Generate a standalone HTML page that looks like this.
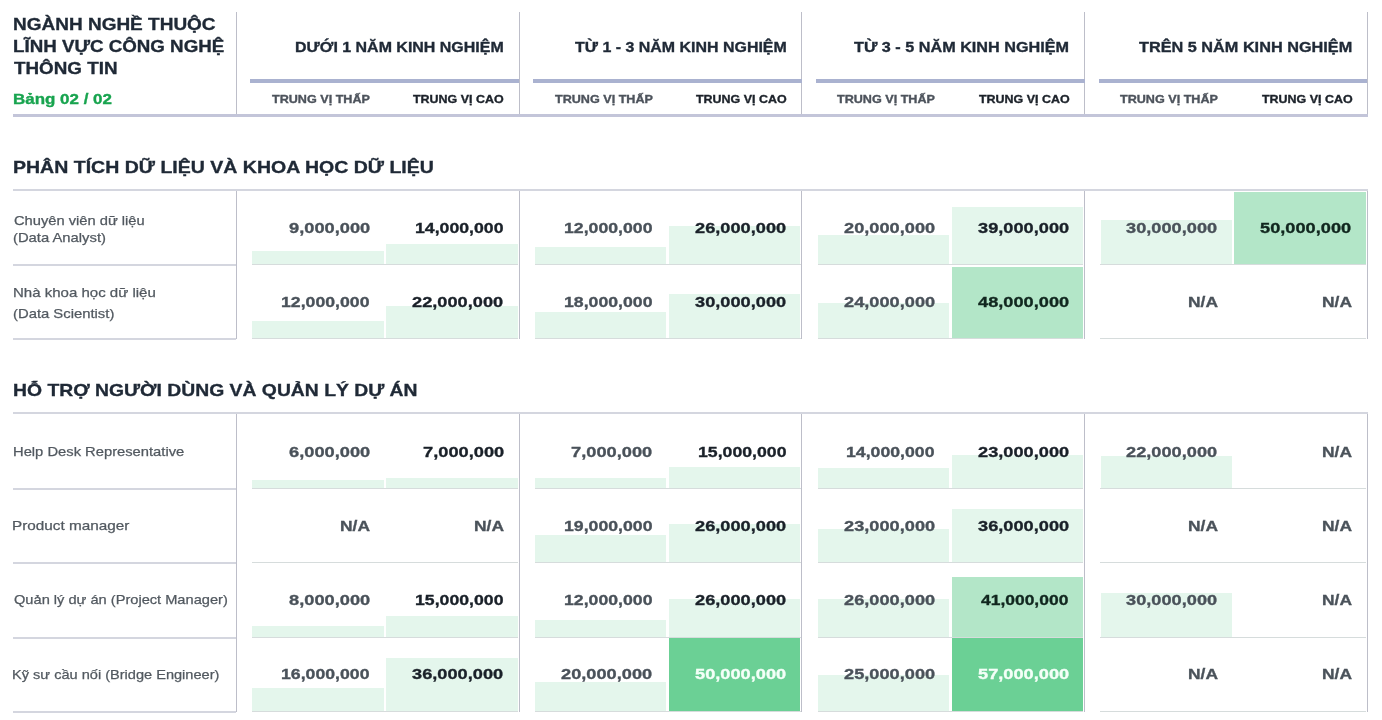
<!DOCTYPE html><html><head><meta charset="utf-8"><style>*{margin:0;padding:0;box-sizing:border-box}html,body{width:1382px;height:720px;overflow:hidden;background:#fff;font-family:"Liberation Sans", sans-serif}.t{position:absolute;white-space:nowrap;line-height:1;transform-origin:0 50%;will-change:transform}.l{position:absolute}</style></head><body>
<div class="l" style="left:252.45px;top:251.44px;width:131.30px;height:12.56px;background:#e4f6ec"></div>
<div class="l" style="left:386.15px;top:244.00px;width:131.85px;height:20.00px;background:#e4f6ec"></div>
<div class="l" style="left:535.20px;top:246.97px;width:131.30px;height:17.03px;background:#e4f6ec"></div>
<div class="l" style="left:668.90px;top:226.14px;width:131.10px;height:37.86px;background:#e4f6ec"></div>
<div class="l" style="left:817.95px;top:235.07px;width:131.30px;height:28.93px;background:#e4f6ec"></div>
<div class="l" style="left:951.65px;top:206.80px;width:131.35px;height:57.20px;background:#e4f6ec"></div>
<div class="l" style="left:1100.70px;top:220.19px;width:131.30px;height:43.81px;background:#e4f6ec"></div>
<div class="l" style="left:1234.40px;top:192.00px;width:131.60px;height:72.00px;background:#b3e6c8"></div>
<div class="l" style="left:252.45px;top:320.97px;width:131.30px;height:17.03px;background:#e4f6ec"></div>
<div class="l" style="left:386.15px;top:306.09px;width:131.85px;height:31.91px;background:#e4f6ec"></div>
<div class="l" style="left:535.20px;top:312.05px;width:131.30px;height:25.95px;background:#e4f6ec"></div>
<div class="l" style="left:668.90px;top:294.19px;width:131.10px;height:43.81px;background:#e4f6ec"></div>
<div class="l" style="left:817.95px;top:303.12px;width:131.30px;height:34.88px;background:#e4f6ec"></div>
<div class="l" style="left:951.65px;top:267.41px;width:131.35px;height:70.59px;background:#b3e6c8"></div>
<div class="l" style="left:252.45px;top:479.90px;width:131.30px;height:8.10px;background:#e4f6ec"></div>
<div class="l" style="left:386.15px;top:478.41px;width:131.85px;height:9.59px;background:#e4f6ec"></div>
<div class="l" style="left:535.20px;top:478.41px;width:131.30px;height:9.59px;background:#e4f6ec"></div>
<div class="l" style="left:668.90px;top:466.51px;width:131.10px;height:21.49px;background:#e4f6ec"></div>
<div class="l" style="left:817.95px;top:468.00px;width:131.30px;height:20.00px;background:#e4f6ec"></div>
<div class="l" style="left:951.65px;top:454.61px;width:131.35px;height:33.39px;background:#e4f6ec"></div>
<div class="l" style="left:1100.70px;top:456.09px;width:131.30px;height:31.91px;background:#e4f6ec"></div>
<div class="l" style="left:535.20px;top:534.56px;width:131.30px;height:27.44px;background:#e4f6ec"></div>
<div class="l" style="left:668.90px;top:524.14px;width:131.10px;height:37.86px;background:#e4f6ec"></div>
<div class="l" style="left:817.95px;top:528.61px;width:131.30px;height:33.39px;background:#e4f6ec"></div>
<div class="l" style="left:951.65px;top:509.26px;width:131.35px;height:52.74px;background:#e4f6ec"></div>
<div class="l" style="left:252.45px;top:625.93px;width:131.30px;height:11.07px;background:#e4f6ec"></div>
<div class="l" style="left:386.15px;top:615.51px;width:131.85px;height:21.49px;background:#e4f6ec"></div>
<div class="l" style="left:535.20px;top:619.97px;width:131.30px;height:17.03px;background:#e4f6ec"></div>
<div class="l" style="left:668.90px;top:599.14px;width:131.10px;height:37.86px;background:#e4f6ec"></div>
<div class="l" style="left:817.95px;top:599.14px;width:131.30px;height:37.86px;background:#e4f6ec"></div>
<div class="l" style="left:951.65px;top:576.82px;width:131.35px;height:60.18px;background:#b3e6c8"></div>
<div class="l" style="left:1100.70px;top:593.19px;width:131.30px;height:43.81px;background:#e4f6ec"></div>
<div class="l" style="left:252.45px;top:688.02px;width:131.30px;height:22.98px;background:#e4f6ec"></div>
<div class="l" style="left:386.15px;top:658.26px;width:131.85px;height:52.74px;background:#e4f6ec"></div>
<div class="l" style="left:535.20px;top:682.07px;width:131.30px;height:28.93px;background:#e4f6ec"></div>
<div class="l" style="left:668.90px;top:638.00px;width:131.10px;height:73.00px;background:#6bd095"></div>
<div class="l" style="left:817.95px;top:674.63px;width:131.30px;height:36.37px;background:#e4f6ec"></div>
<div class="l" style="left:951.65px;top:638.00px;width:131.35px;height:73.00px;background:#6bd095"></div>
<div class="l" style="left:236.00px;top:12.00px;width:1.00px;height:104.00px;background:#bdbec9"></div>
<div class="l" style="left:519.00px;top:12.00px;width:1.00px;height:104.00px;background:#bdbec9"></div>
<div class="l" style="left:801.00px;top:12.00px;width:1.00px;height:104.00px;background:#bdbec9"></div>
<div class="l" style="left:1084.00px;top:12.00px;width:1.00px;height:104.00px;background:#bdbec9"></div>
<div class="l" style="left:1367.00px;top:12.00px;width:1.00px;height:104.00px;background:#bdbec9"></div>
<div class="l" style="left:250.25px;top:79.00px;width:268.75px;height:3.50px;background:#aab2d0"></div>
<div class="l" style="left:533.00px;top:79.00px;width:268.75px;height:3.50px;background:#aab2d0"></div>
<div class="l" style="left:815.75px;top:79.00px;width:268.75px;height:3.50px;background:#aab2d0"></div>
<div class="l" style="left:1098.50px;top:79.00px;width:268.75px;height:3.50px;background:#aab2d0"></div>
<div class="l" style="left:13.00px;top:114.00px;width:1355.00px;height:3.00px;background:#c3c5d9"></div>
<div class="l" style="left:13.00px;top:189.00px;width:1355.00px;height:2.00px;background:#d4d6df"></div>
<div class="l" style="left:236.00px;top:191.00px;width:1.00px;height:148.40px;background:#bdbec9"></div>
<div class="l" style="left:519.00px;top:191.00px;width:1.00px;height:148.40px;background:#bdbec9"></div>
<div class="l" style="left:801.00px;top:191.00px;width:1.00px;height:148.40px;background:#bdbec9"></div>
<div class="l" style="left:1084.00px;top:191.00px;width:1.00px;height:148.40px;background:#bdbec9"></div>
<div class="l" style="left:1367.00px;top:191.00px;width:1.00px;height:148.40px;background:#bdbec9"></div>
<div class="l" style="left:13.00px;top:264.00px;width:223.00px;height:2.00px;background:#d4d6df"></div>
<div class="l" style="left:252.00px;top:264.00px;width:265.75px;height:1.00px;background:#d6dcdc"></div>
<div class="l" style="left:534.75px;top:264.00px;width:265.75px;height:1.00px;background:#d6dcdc"></div>
<div class="l" style="left:817.50px;top:264.00px;width:265.75px;height:1.00px;background:#d6dcdc"></div>
<div class="l" style="left:1100.25px;top:264.00px;width:265.75px;height:1.00px;background:#d6dcdc"></div>
<div class="l" style="left:13.00px;top:338.00px;width:223.00px;height:2.00px;background:#d4d6df"></div>
<div class="l" style="left:252.00px;top:338.00px;width:265.75px;height:1.00px;background:#d6dcdc"></div>
<div class="l" style="left:534.75px;top:338.00px;width:265.75px;height:1.00px;background:#d6dcdc"></div>
<div class="l" style="left:817.50px;top:338.00px;width:265.75px;height:1.00px;background:#d6dcdc"></div>
<div class="l" style="left:1100.25px;top:338.00px;width:265.75px;height:1.00px;background:#d6dcdc"></div>
<div class="l" style="left:13.00px;top:412.00px;width:1355.00px;height:2.00px;background:#d4d6df"></div>
<div class="l" style="left:236.00px;top:414.00px;width:1.00px;height:297.80px;background:#bdbec9"></div>
<div class="l" style="left:519.00px;top:414.00px;width:1.00px;height:297.80px;background:#bdbec9"></div>
<div class="l" style="left:801.00px;top:414.00px;width:1.00px;height:297.80px;background:#bdbec9"></div>
<div class="l" style="left:1084.00px;top:414.00px;width:1.00px;height:297.80px;background:#bdbec9"></div>
<div class="l" style="left:1367.00px;top:414.00px;width:1.00px;height:297.80px;background:#bdbec9"></div>
<div class="l" style="left:13.00px;top:488.00px;width:223.00px;height:2.00px;background:#d4d6df"></div>
<div class="l" style="left:252.00px;top:488.00px;width:265.75px;height:1.00px;background:#d6dcdc"></div>
<div class="l" style="left:534.75px;top:488.00px;width:265.75px;height:1.00px;background:#d6dcdc"></div>
<div class="l" style="left:817.50px;top:488.00px;width:265.75px;height:1.00px;background:#d6dcdc"></div>
<div class="l" style="left:1100.25px;top:488.00px;width:265.75px;height:1.00px;background:#d6dcdc"></div>
<div class="l" style="left:13.00px;top:562.00px;width:223.00px;height:2.00px;background:#d4d6df"></div>
<div class="l" style="left:252.00px;top:562.00px;width:265.75px;height:1.00px;background:#d6dcdc"></div>
<div class="l" style="left:534.75px;top:562.00px;width:265.75px;height:1.00px;background:#d6dcdc"></div>
<div class="l" style="left:817.50px;top:562.00px;width:265.75px;height:1.00px;background:#d6dcdc"></div>
<div class="l" style="left:1100.25px;top:562.00px;width:265.75px;height:1.00px;background:#d6dcdc"></div>
<div class="l" style="left:13.00px;top:637.00px;width:223.00px;height:2.00px;background:#d4d6df"></div>
<div class="l" style="left:252.00px;top:637.00px;width:265.75px;height:1.00px;background:#d6dcdc"></div>
<div class="l" style="left:534.75px;top:637.00px;width:265.75px;height:1.00px;background:#d6dcdc"></div>
<div class="l" style="left:817.50px;top:637.00px;width:265.75px;height:1.00px;background:#d6dcdc"></div>
<div class="l" style="left:1100.25px;top:637.00px;width:265.75px;height:1.00px;background:#d6dcdc"></div>
<div class="l" style="left:13.00px;top:711.00px;width:223.00px;height:2.00px;background:#d4d6df"></div>
<div class="l" style="left:252.00px;top:711.00px;width:265.75px;height:1.00px;background:#d6dcdc"></div>
<div class="l" style="left:534.75px;top:711.00px;width:265.75px;height:1.00px;background:#d6dcdc"></div>
<div class="l" style="left:817.50px;top:711.00px;width:265.75px;height:1.00px;background:#d6dcdc"></div>
<div class="l" style="left:1100.25px;top:711.00px;width:265.75px;height:1.00px;background:#d6dcdc"></div>
<span class="t" style="left:12.78px;top:16.13px;color:#1f2936;font-size:17.0px;font-weight:bold;-webkit-text-stroke:0.35px #1f2936;transform:scaleX(1.1172)">NGÀNH NGHỀ THUỘC</span>
<span class="t" style="left:12.80px;top:38.23px;color:#1f2936;font-size:17.0px;font-weight:bold;-webkit-text-stroke:0.35px #1f2936;transform:scaleX(1.1021)">LĨNH VỰC CÔNG NGHỆ</span>
<span class="t" style="left:13.90px;top:60.43px;color:#1f2936;font-size:17.0px;font-weight:bold;-webkit-text-stroke:0.35px #1f2936;transform:scaleX(1.1075)">THÔNG TIN</span>
<span class="t" style="left:12.63px;top:91.75px;color:#18a44f;font-size:14.5px;font-weight:bold;-webkit-text-stroke:0.35px #18a44f;transform:scaleX(1.1687)">Bảng 02 / 02</span>
<span class="t" style="left:295.14px;top:39.04px;color:#1f2936;font-size:15.1px;font-weight:bold;-webkit-text-stroke:0.35px #1f2936;transform:scaleX(1.0577)">DƯỚI 1 NĂM KINH NGHIỆM</span>
<span class="t" style="left:271.85px;top:93.74px;color:#4d535c;font-size:11.2px;font-weight:bold;-webkit-text-stroke:0.35px #4d535c;transform:scaleX(1.1253)">TRUNG VỊ THẤP</span>
<span class="t" style="left:413.35px;top:93.74px;color:#1c222a;font-size:11.2px;font-weight:bold;-webkit-text-stroke:0.35px #1c222a;transform:scaleX(1.1123)">TRUNG VỊ CAO</span>
<span class="t" style="left:574.80px;top:39.04px;color:#1f2936;font-size:15.1px;font-weight:bold;-webkit-text-stroke:0.35px #1f2936;transform:scaleX(1.0570)">TỪ 1 - 3 NĂM KINH NGHIỆM</span>
<span class="t" style="left:554.60px;top:93.74px;color:#4d535c;font-size:11.2px;font-weight:bold;-webkit-text-stroke:0.35px #4d535c;transform:scaleX(1.1253)">TRUNG VỊ THẤP</span>
<span class="t" style="left:696.10px;top:93.74px;color:#1c222a;font-size:11.2px;font-weight:bold;-webkit-text-stroke:0.35px #1c222a;transform:scaleX(1.1123)">TRUNG VỊ CAO</span>
<span class="t" style="left:854.30px;top:39.04px;color:#1f2936;font-size:15.1px;font-weight:bold;-webkit-text-stroke:0.35px #1f2936;transform:scaleX(1.0735)">TỪ 3 - 5 NĂM KINH NGHIỆM</span>
<span class="t" style="left:837.35px;top:93.74px;color:#4d535c;font-size:11.2px;font-weight:bold;-webkit-text-stroke:0.35px #4d535c;transform:scaleX(1.1253)">TRUNG VỊ THẤP</span>
<span class="t" style="left:978.85px;top:93.74px;color:#1c222a;font-size:11.2px;font-weight:bold;-webkit-text-stroke:0.35px #1c222a;transform:scaleX(1.1123)">TRUNG VỊ CAO</span>
<span class="t" style="left:1139.40px;top:39.04px;color:#1f2936;font-size:15.1px;font-weight:bold;-webkit-text-stroke:0.35px #1f2936;transform:scaleX(1.0772)">TRÊN 5 NĂM KINH NGHIỆM</span>
<span class="t" style="left:1120.10px;top:93.74px;color:#4d535c;font-size:11.2px;font-weight:bold;-webkit-text-stroke:0.35px #4d535c;transform:scaleX(1.1253)">TRUNG VỊ THẤP</span>
<span class="t" style="left:1261.60px;top:93.74px;color:#1c222a;font-size:11.2px;font-weight:bold;-webkit-text-stroke:0.35px #1c222a;transform:scaleX(1.1123)">TRUNG VỊ CAO</span>
<span class="t" style="left:12.76px;top:158.85px;color:#1f2936;font-size:17.1px;font-weight:bold;-webkit-text-stroke:0.35px #1f2936;transform:scaleX(1.1417)">PHÂN TÍCH DỮ LIỆU VÀ KHOA HỌC DỮ LIỆU</span>
<span class="t" style="left:12.77px;top:382.05px;color:#1f2936;font-size:17.1px;font-weight:bold;-webkit-text-stroke:0.35px #1f2936;transform:scaleX(1.1312)">HỖ TRỢ NGƯỜI DÙNG VÀ QUẢN LÝ DỰ ÁN</span>
<span class="t" style="left:13.70px;top:214.12px;color:#525960;font-size:13.0px;font-weight:normal;-webkit-text-stroke:0.25px #525960;transform:scaleX(1.1296)">Chuyên viên dữ liệu</span>
<span class="t" style="left:12.56px;top:230.62px;color:#525960;font-size:13.0px;font-weight:normal;-webkit-text-stroke:0.25px #525960;transform:scaleX(1.1387)">(Data Analyst)</span>
<span class="t" style="left:288.55px;top:220.09px;color:#4a525a;font-size:15.4px;font-weight:bold;-webkit-text-stroke:0.35px #4a525a;transform:scaleX(1.1868)">9,000,000</span>
<span class="t" style="left:414.80px;top:220.09px;color:#1a2129;font-size:15.4px;font-weight:bold;-webkit-text-stroke:0.35px #1a2129;transform:scaleX(1.1487)">14,000,000</span>
<span class="t" style="left:563.55px;top:220.09px;color:#4a525a;font-size:15.4px;font-weight:bold;-webkit-text-stroke:0.35px #4a525a;transform:scaleX(1.1487)">12,000,000</span>
<span class="t" style="left:694.90px;top:220.09px;color:#1a2129;font-size:15.4px;font-weight:bold;-webkit-text-stroke:0.35px #1a2129;transform:scaleX(1.1831)">26,000,000</span>
<span class="t" style="left:843.65px;top:220.09px;color:#4a525a;font-size:15.4px;font-weight:bold;-webkit-text-stroke:0.35px #4a525a;transform:scaleX(1.1831)">20,000,000</span>
<span class="t" style="left:977.65px;top:220.09px;color:#1a2129;font-size:15.4px;font-weight:bold;-webkit-text-stroke:0.35px #1a2129;transform:scaleX(1.1831)">39,000,000</span>
<span class="t" style="left:1126.40px;top:220.09px;color:#4a525a;font-size:15.4px;font-weight:bold;-webkit-text-stroke:0.35px #4a525a;transform:scaleX(1.1831)">30,000,000</span>
<span class="t" style="left:1260.40px;top:220.09px;color:#11271f;font-size:15.4px;font-weight:bold;-webkit-text-stroke:0.35px #11271f;transform:scaleX(1.1831)">50,000,000</span>
<span class="t" style="left:12.55px;top:286.31px;color:#525960;font-size:13.0px;font-weight:normal;-webkit-text-stroke:0.25px #525960;transform:scaleX(1.1549)">Nhà khoa học dữ liệu</span>
<span class="t" style="left:12.56px;top:306.91px;color:#525960;font-size:13.0px;font-weight:normal;-webkit-text-stroke:0.25px #525960;transform:scaleX(1.1402)">(Data Scientist)</span>
<span class="t" style="left:280.80px;top:294.29px;color:#4a525a;font-size:15.4px;font-weight:bold;-webkit-text-stroke:0.35px #4a525a;transform:scaleX(1.1487)">12,000,000</span>
<span class="t" style="left:412.15px;top:294.29px;color:#1a2129;font-size:15.4px;font-weight:bold;-webkit-text-stroke:0.35px #1a2129;transform:scaleX(1.1831)">22,000,000</span>
<span class="t" style="left:563.55px;top:294.29px;color:#4a525a;font-size:15.4px;font-weight:bold;-webkit-text-stroke:0.35px #4a525a;transform:scaleX(1.1487)">18,000,000</span>
<span class="t" style="left:694.90px;top:294.29px;color:#1a2129;font-size:15.4px;font-weight:bold;-webkit-text-stroke:0.35px #1a2129;transform:scaleX(1.1831)">30,000,000</span>
<span class="t" style="left:843.65px;top:294.29px;color:#4a525a;font-size:15.4px;font-weight:bold;-webkit-text-stroke:0.35px #4a525a;transform:scaleX(1.1831)">24,000,000</span>
<span class="t" style="left:977.65px;top:294.29px;color:#11271f;font-size:15.4px;font-weight:bold;-webkit-text-stroke:0.35px #11271f;transform:scaleX(1.1831)">48,000,000</span>
<span class="t" style="left:1188.07px;top:294.29px;color:#4a525a;font-size:15.4px;font-weight:bold;-webkit-text-stroke:0.35px #4a525a;transform:scaleX(1.1320)">N/A</span>
<span class="t" style="left:1322.07px;top:294.29px;color:#4a525a;font-size:15.4px;font-weight:bold;-webkit-text-stroke:0.35px #4a525a;transform:scaleX(1.1320)">N/A</span>
<span class="t" style="left:12.57px;top:445.01px;color:#525960;font-size:13.0px;font-weight:normal;-webkit-text-stroke:0.25px #525960;transform:scaleX(1.1340)">Help Desk Representative</span>
<span class="t" style="left:288.55px;top:443.69px;color:#4a525a;font-size:15.4px;font-weight:bold;-webkit-text-stroke:0.35px #4a525a;transform:scaleX(1.1868)">6,000,000</span>
<span class="t" style="left:422.55px;top:443.69px;color:#1a2129;font-size:15.4px;font-weight:bold;-webkit-text-stroke:0.35px #1a2129;transform:scaleX(1.1868)">7,000,000</span>
<span class="t" style="left:571.30px;top:443.69px;color:#4a525a;font-size:15.4px;font-weight:bold;-webkit-text-stroke:0.35px #4a525a;transform:scaleX(1.1868)">7,000,000</span>
<span class="t" style="left:697.55px;top:443.69px;color:#1a2129;font-size:15.4px;font-weight:bold;-webkit-text-stroke:0.35px #1a2129;transform:scaleX(1.1487)">15,000,000</span>
<span class="t" style="left:846.30px;top:443.69px;color:#4a525a;font-size:15.4px;font-weight:bold;-webkit-text-stroke:0.35px #4a525a;transform:scaleX(1.1487)">14,000,000</span>
<span class="t" style="left:977.65px;top:443.69px;color:#1a2129;font-size:15.4px;font-weight:bold;-webkit-text-stroke:0.35px #1a2129;transform:scaleX(1.1831)">23,000,000</span>
<span class="t" style="left:1126.40px;top:443.69px;color:#4a525a;font-size:15.4px;font-weight:bold;-webkit-text-stroke:0.35px #4a525a;transform:scaleX(1.1831)">22,000,000</span>
<span class="t" style="left:1322.07px;top:443.69px;color:#4a525a;font-size:15.4px;font-weight:bold;-webkit-text-stroke:0.35px #4a525a;transform:scaleX(1.1320)">N/A</span>
<span class="t" style="left:12.32px;top:519.22px;color:#525960;font-size:13.0px;font-weight:normal;-webkit-text-stroke:0.25px #525960;transform:scaleX(1.1758)">Product manager</span>
<span class="t" style="left:339.82px;top:517.89px;color:#4a525a;font-size:15.4px;font-weight:bold;-webkit-text-stroke:0.35px #4a525a;transform:scaleX(1.1320)">N/A</span>
<span class="t" style="left:473.82px;top:517.89px;color:#4a525a;font-size:15.4px;font-weight:bold;-webkit-text-stroke:0.35px #4a525a;transform:scaleX(1.1320)">N/A</span>
<span class="t" style="left:563.55px;top:517.89px;color:#4a525a;font-size:15.4px;font-weight:bold;-webkit-text-stroke:0.35px #4a525a;transform:scaleX(1.1487)">19,000,000</span>
<span class="t" style="left:694.90px;top:517.89px;color:#1a2129;font-size:15.4px;font-weight:bold;-webkit-text-stroke:0.35px #1a2129;transform:scaleX(1.1831)">26,000,000</span>
<span class="t" style="left:843.65px;top:517.89px;color:#4a525a;font-size:15.4px;font-weight:bold;-webkit-text-stroke:0.35px #4a525a;transform:scaleX(1.1831)">23,000,000</span>
<span class="t" style="left:977.65px;top:517.89px;color:#1a2129;font-size:15.4px;font-weight:bold;-webkit-text-stroke:0.35px #1a2129;transform:scaleX(1.1831)">36,000,000</span>
<span class="t" style="left:1188.07px;top:517.89px;color:#4a525a;font-size:15.4px;font-weight:bold;-webkit-text-stroke:0.35px #4a525a;transform:scaleX(1.1320)">N/A</span>
<span class="t" style="left:1322.07px;top:517.89px;color:#4a525a;font-size:15.4px;font-weight:bold;-webkit-text-stroke:0.35px #4a525a;transform:scaleX(1.1320)">N/A</span>
<span class="t" style="left:13.50px;top:593.41px;color:#525960;font-size:13.0px;font-weight:normal;-webkit-text-stroke:0.25px #525960;transform:scaleX(1.1247)">Quản lý dự án (Project Manager)</span>
<span class="t" style="left:288.55px;top:592.09px;color:#4a525a;font-size:15.4px;font-weight:bold;-webkit-text-stroke:0.35px #4a525a;transform:scaleX(1.1868)">8,000,000</span>
<span class="t" style="left:414.80px;top:592.09px;color:#1a2129;font-size:15.4px;font-weight:bold;-webkit-text-stroke:0.35px #1a2129;transform:scaleX(1.1487)">15,000,000</span>
<span class="t" style="left:563.55px;top:592.09px;color:#4a525a;font-size:15.4px;font-weight:bold;-webkit-text-stroke:0.35px #4a525a;transform:scaleX(1.1487)">12,000,000</span>
<span class="t" style="left:694.90px;top:592.09px;color:#1a2129;font-size:15.4px;font-weight:bold;-webkit-text-stroke:0.35px #1a2129;transform:scaleX(1.1831)">26,000,000</span>
<span class="t" style="left:843.65px;top:592.09px;color:#4a525a;font-size:15.4px;font-weight:bold;-webkit-text-stroke:0.35px #4a525a;transform:scaleX(1.1831)">26,000,000</span>
<span class="t" style="left:981.45px;top:592.09px;color:#11271f;font-size:15.4px;font-weight:bold;-webkit-text-stroke:0.35px #11271f;transform:scaleX(1.1338)">41,000,000</span>
<span class="t" style="left:1126.40px;top:592.09px;color:#4a525a;font-size:15.4px;font-weight:bold;-webkit-text-stroke:0.35px #4a525a;transform:scaleX(1.1831)">30,000,000</span>
<span class="t" style="left:1322.07px;top:592.09px;color:#4a525a;font-size:15.4px;font-weight:bold;-webkit-text-stroke:0.35px #4a525a;transform:scaleX(1.1320)">N/A</span>
<span class="t" style="left:12.38px;top:667.62px;color:#525960;font-size:13.0px;font-weight:normal;-webkit-text-stroke:0.25px #525960;transform:scaleX(1.1207)">Kỹ sư cầu nối (Bridge Engineer)</span>
<span class="t" style="left:280.80px;top:666.29px;color:#4a525a;font-size:15.4px;font-weight:bold;-webkit-text-stroke:0.35px #4a525a;transform:scaleX(1.1487)">16,000,000</span>
<span class="t" style="left:412.15px;top:666.29px;color:#1a2129;font-size:15.4px;font-weight:bold;-webkit-text-stroke:0.35px #1a2129;transform:scaleX(1.1831)">36,000,000</span>
<span class="t" style="left:560.90px;top:666.29px;color:#4a525a;font-size:15.4px;font-weight:bold;-webkit-text-stroke:0.35px #4a525a;transform:scaleX(1.1831)">20,000,000</span>
<span class="t" style="left:694.90px;top:666.29px;color:#f4fff8;font-size:15.4px;font-weight:bold;-webkit-text-stroke:0.35px #f4fff8;transform:scaleX(1.1831)">50,000,000</span>
<span class="t" style="left:843.65px;top:666.29px;color:#4a525a;font-size:15.4px;font-weight:bold;-webkit-text-stroke:0.35px #4a525a;transform:scaleX(1.1831)">25,000,000</span>
<span class="t" style="left:977.65px;top:666.29px;color:#f4fff8;font-size:15.4px;font-weight:bold;-webkit-text-stroke:0.35px #f4fff8;transform:scaleX(1.1831)">57,000,000</span>
<span class="t" style="left:1188.07px;top:666.29px;color:#4a525a;font-size:15.4px;font-weight:bold;-webkit-text-stroke:0.35px #4a525a;transform:scaleX(1.1320)">N/A</span>
<span class="t" style="left:1322.07px;top:666.29px;color:#4a525a;font-size:15.4px;font-weight:bold;-webkit-text-stroke:0.35px #4a525a;transform:scaleX(1.1320)">N/A</span>
</body></html>
